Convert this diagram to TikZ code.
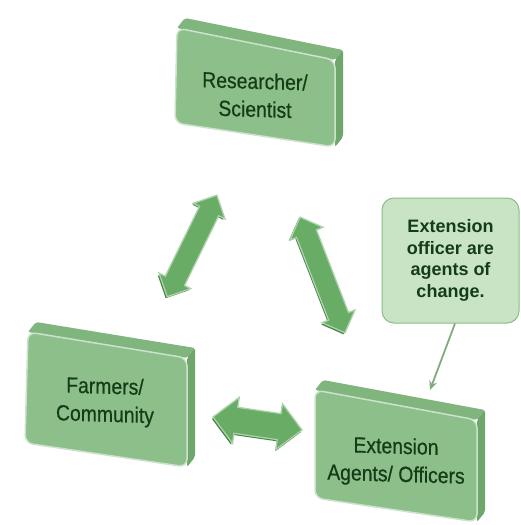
\documentclass[tikz,border=0pt]{standalone}
\usepackage{fontspec}
\setmainfont{Liberation Sans}
\newfontfamily\boxfont[FakeStretch=0.88,FakeBold=0.6]{Liberation Sans}
\usetikzlibrary{shapes.arrows,arrows.meta,calc}
\definecolor{boxfront}{RGB}{141,191,139}
\definecolor{boxtop}{RGB}{128,181,126}
\definecolor{boxside}{RGB}{110,166,108}
\definecolor{boxtext}{RGB}{20,60,22}
\definecolor{arrowfill}{RGB}{104,172,102}
\definecolor{arrowdark}{RGB}{66,132,66}
\definecolor{calloutfill}{RGB}{200,228,196}
\definecolor{calloutdraw}{RGB}{140,188,136}
\definecolor{pointercol}{RGB}{128,172,126}
\tikzset{
  frontface/.style={fill=boxfront, draw=white!55!boxfront, line width=1.5pt, rounded corners=8pt},
  topface/.style={fill=boxtop, rounded corners=2pt},
  sideface/.style={fill=boxside, rounded corners=2pt},
  boxlabel/.style={font=\boxfont\fontsize{22}{28}\selectfont, text=boxtext, align=center, yslant=-0.03},
  blockarrow/.style={double arrow, fill=arrowfill, draw=white!45!arrowfill, line width=1.3pt,
     double arrow head extend=7pt, inner xsep=0pt, inner ysep=10pt},
  blockshadow/.style={double arrow, fill=arrowdark, draw=none,
     double arrow head extend=7pt, inner xsep=0pt, inner ysep=10pt},
  calloutbox/.style={fill=calloutfill, draw=calloutdraw, line width=1pt, rounded corners=12pt,
     minimum width=137pt, minimum height=125pt, align=center, text=boxtext,
     font=\bfseries\fontsize{18}{21.7}\selectfont},
  pointerline/.style={draw=pointercol, line width=1.8pt, -{Stealth[length=9pt,width=8pt]}}
}
\newcommand\greenbox[7]{%
  \coordinate (#1-tl) at #2;
  \coordinate (#1-tr) at #3;
  \coordinate (#1-br) at #4;
  \coordinate (#1-bl) at #5;
  \fill[topface] (#1-tl) -- ++(8,-10) -- ($(#1-tr)+(8,-10)$) -- (#1-tr) -- cycle;
  \fill[sideface] (#1-tr) -- ++(8,-10) -- ($(#1-br)+(8,-10)$) -- (#1-br) -- cycle;
  \draw[frontface] (#1-tl) -- (#1-tr) -- (#1-br) -- (#1-bl) -- cycle;
  \node[boxlabel] (#1) at #6 {#7};
}
\begin{document}
\begin{tikzpicture}[x=1pt,y=-1pt]
\useasboundingbox (0,0) rectangle (521,525);
\fill[white] (0,0) rectangle (521,525);

\greenbox{res}{(177,28)}{(335,60)}{(335,147)}{(175,123)}{(255,95)}{Researcher/\\Scientist}
\greenbox{farm}{(28,332)}{(187,358)}{(187,467)}{(25,443)}{(105,402)}{Farmers/\\Community}
\greenbox{ext}{(315,390)}{(477,420)}{(477,522)}{(315,498)}{(396,462)}{\baselineskip=30pt Extension\\Agents/ Officers}

% block arrows
\node[blockshadow, minimum height=113pt, rotate=63.9] (a1s) at (190.5,247.5) {};
\node[blockarrow, minimum height=113pt, rotate=63.9] (a1) at (192,246) {};
\node[blockshadow, minimum height=124pt, rotate=-68.8] (a2s) at (321,276.5) {};
\node[blockarrow, minimum height=124pt, rotate=-68.8] (a2) at (322.5,275) {};
\node[blockshadow, minimum height=90pt, inner ysep=12.5pt, double arrow head extend=10pt, rotate=-8.3] (a3s) at (256.5,425.5) {};
\node[blockarrow, minimum height=90pt, inner ysep=12.5pt, double arrow head extend=10pt, rotate=-8.3] (a3) at (257.5,423.5) {};

% callout
\node[calloutbox] (note) at (450.5,260.5) {Extension\\officer are\\agents of\\change.};
\coordinate (ptip) at (430,390);
\draw[pointerline] ([xshift=4.5pt]note.south) -- (ptip);
\end{tikzpicture}
\end{document}
